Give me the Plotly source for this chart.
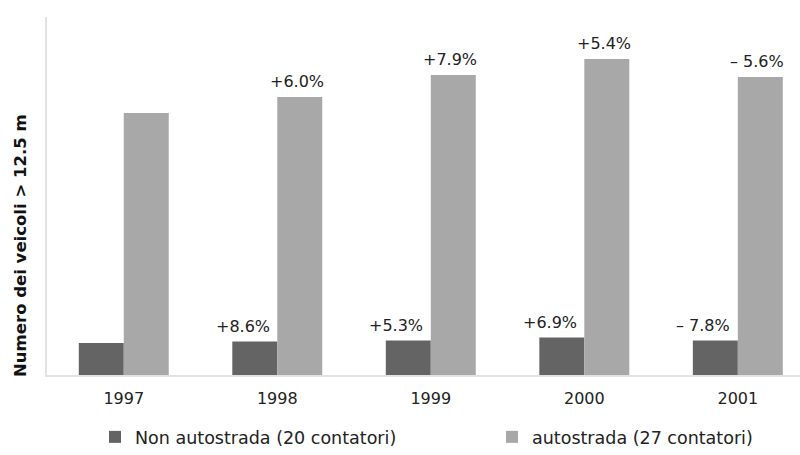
import plotly.graph_objects as go

# Heavy-vehicle counts (> 12.5 m), index units
anni = ["1997", "1998", "1999", "2000", "2001"]
non_autostrada = [32.0, 33.5, 34.5, 37.5, 34.5]
autostrada = [262, 278, 300, 316, 298]

# Year-on-year changes shown above the bars
var_non_autostrada = ["", "+8.6%", "+5.3%", "+6.9%", "– 7.8%"]
var_autostrada = ["", "+6.0%", "+7.9%", "+5.4%", "– 5.6%"]

nomi_serie = ["Non autostrada (20 contatori)", "autostrada (27 contatori)"]
colori = ["#646464", "#a8a8a8"]

FONT = "DejaVu Sans"
TXT = "#222222"
pos = list(range(len(anni)))

fig = go.Figure()
fig.add_trace(go.Bar(x=pos, y=non_autostrada, name=nomi_serie[0], legend="legend",
                     marker=dict(color=colori[0], line=dict(width=0))))
fig.add_trace(go.Bar(x=pos, y=autostrada, name=nomi_serie[1], legend="legend2",
                     marker=dict(color=colori[1], line=dict(width=0))))

half = (1 - 0.414) / 4  # centre offset of each bar within its group
for i in pos:
    if var_non_autostrada[i]:
        fig.add_annotation(x=i - half, y=non_autostrada[i], text=var_non_autostrada[i],
                           showarrow=False, xanchor="center", yanchor="bottom",
                           xshift=-12, yshift=4,
                           font=dict(family=FONT, size=16, color=TXT))
    if var_autostrada[i]:
        fig.add_annotation(x=i + half, y=autostrada[i], text=var_autostrada[i],
                           showarrow=False, xanchor="center", yanchor="bottom",
                           xshift=-3, yshift=4,
                           font=dict(family=FONT, size=16, color=TXT))

fig.add_annotation(xref="paper", yref="paper", x=-0.036, y=0.363,
                   text="<b>Numero dei veicoli > 12.5 m</b>", textangle=-90,
                   showarrow=False, xanchor="center", yanchor="middle",
                   font=dict(family=FONT, size=16.5, color="#111111"))

legenda = dict(orientation="h", xref="container", yref="container",
               y=-0.008, xanchor="left", yanchor="bottom",
               font=dict(family=FONT, size=17.5, color=TXT))

fig.update_layout(
    width=800, height=455,
    margin=dict(l=47, r=0, t=17, b=80),
    paper_bgcolor="white", plot_bgcolor="white",
    barmode="group", bargap=0.414, bargroupgap=0,
    font=dict(family=FONT, size=16, color=TXT),
    showlegend=True,
    legend=dict(legenda, x=95 / 800),
    legend2=dict(legenda, x=492 / 800),
    xaxis=dict(tickmode="array", tickvals=pos, ticktext=anni,
               range=[-0.5, 4.405], showgrid=False, zeroline=False,
               showline=True, linecolor="#e2e2e2", linewidth=2,
               ticks="", ticklabelstandoff=8,
               tickfont=dict(family=FONT, size=16, color=TXT)),
    yaxis=dict(range=[0, 358], showgrid=False, zeroline=False,
               showline=True, linecolor="#e2e2e2", linewidth=2,
               showticklabels=False, ticks=""),
)

fig.write_html("out.html")
